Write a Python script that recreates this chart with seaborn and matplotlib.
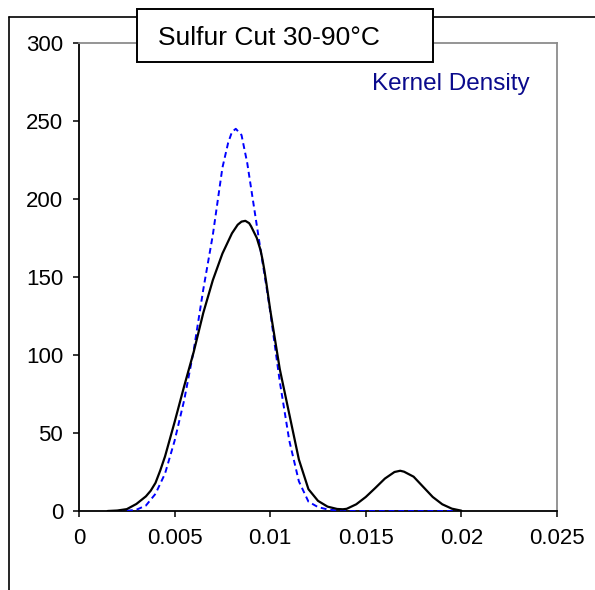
import matplotlib
matplotlib.use("Agg")
import matplotlib.pyplot as plt
import seaborn as sns
import pandas as pd
from matplotlib.patches import Rectangle
from matplotlib.lines import Line2D

# ---- data ----
black_x = [0.0015, 0.002, 0.0025, 0.003, 0.0035, 0.00375, 0.004, 0.00425, 0.0045,
           0.00475, 0.005, 0.0055, 0.006, 0.0065, 0.007, 0.0075, 0.008, 0.0083,
           0.0085, 0.0087, 0.0089, 0.009, 0.0093, 0.0095, 0.0096, 0.0097, 0.0098,
           0.010, 0.0105, 0.011, 0.0115, 0.012, 0.0125, 0.013, 0.0135, 0.0138,
           0.014, 0.0145, 0.015, 0.0155, 0.016, 0.0165, 0.0168, 0.017, 0.0175,
           0.018, 0.0185, 0.019, 0.0195, 0.020]
black_y = [0, 0.3, 1.2, 4.5, 9.4, 13, 18, 26, 35,
           46, 57, 80, 102, 127, 148, 165, 178, 183.5,
           185.5, 186, 184.5, 182.5, 175, 167, 161, 154, 146,
           129, 91, 62, 33, 14, 6.5, 2.8, 1.3, 1.1,
           1.4, 4.3, 9, 14.8, 20.8, 25, 25.8, 25.2, 22,
           15.5, 9, 4.3, 1.5, 0.2]

blue_x = [0.002, 0.0025, 0.003, 0.0035, 0.004, 0.0045, 0.005, 0.0055, 0.006,
          0.0065, 0.007, 0.0075, 0.0078, 0.008, 0.0082, 0.0085, 0.0088, 0.009,
          0.0093, 0.0095, 0.0098, 0.010, 0.0105, 0.011, 0.0115, 0.012, 0.0125,
          0.013, 0.0135, 0.014, 0.015, 0.016, 0.017, 0.018, 0.019, 0.020]
blue_y = [0, 0.1, 0.8, 3.5, 11, 24, 45, 71, 103,
          142, 177, 220, 236, 243, 245, 241, 223, 207,
          183, 167, 144, 128, 83, 45, 19, 6, 2.5,
          1, 0.3, 0, 0, 0, 0, 0, 0, 0]

x_ticks = [0, 0.005, 0.01, 0.015, 0.02, 0.025]
x_labels = ["0", "0.005", "0.01", "0.015", "0.02", "0.025"]
y_ticks = [0, 50, 100, 150, 200, 250, 300]
title_text = "Sulfur Cut 30-90°C"
note_text = "Kernel Density"

# ---- plotting ----
sns.set_style("white")
plt.rcParams["font.family"] = ["Liberation Sans", "DejaVu Sans"]

W, H = 595, 590
fig = plt.figure(figsize=(W / 100, H / 100), dpi=100)
ax = fig.add_axes([79 / W, 1 - 511 / H, (557 - 79) / W, (511 - 43) / H])

black_df = pd.DataFrame({"x": black_x, "y": black_y})
blue_df = pd.DataFrame({"x": blue_x, "y": blue_y})

sns.lineplot(data=blue_df, x="x", y="y", ax=ax, color="#0000FF", lw=1.4,
             linestyle=(0, (3, 2)), zorder=3)
sns.lineplot(data=black_df, x="x", y="y", ax=ax, color="black", lw=1.6, zorder=4)

ax.set_xlim(0, 0.025)
ax.set_ylim(0, 300)
ax.set_xticks(x_ticks)
ax.set_xticklabels(x_labels)
ax.set_yticks(y_ticks)
ax.set_xlabel("")
ax.set_ylabel("")

for s in ["left", "bottom"]:
    ax.spines[s].set_color("black")
    ax.spines[s].set_linewidth(1.3)
for s in ["top", "right"]:
    ax.spines[s].set_color("#8c8c8c")
    ax.spines[s].set_linewidth(1.3)
    ax.spines[s].set_visible(True)

ax.tick_params(axis="both", which="major", direction="out", length=4.5,
               width=1.1, color="black", labelsize=16, labelcolor="black",
               left=True, bottom=True)
ax.tick_params(axis="y", pad=7)
ax.tick_params(axis="x", pad=8)

# outer chart frame (partially visible)
fig.add_artist(Line2D([8.5 / W, 8.5 / W], [1 - 17 / H, 0], transform=fig.transFigure,
                      color="black", lw=1.2))
fig.add_artist(Line2D([8.5 / W, 1.0], [1 - 17 / H, 1 - 17 / H], transform=fig.transFigure,
                      color="black", lw=1.2))

# title box
fig.add_artist(Rectangle((137 / W, 1 - 62 / H), (433 - 137) / W, (62 - 9) / H,
                         transform=fig.transFigure, facecolor="white",
                         edgecolor="black", lw=1.4, zorder=10))
fig.text(158 / W, 1 - 45 / H, title_text, fontsize=19, ha="left", va="baseline",
         color="black", zorder=11)

# kernel density note
fig.text(372 / W, 1 - 90 / H, note_text, fontsize=17.5, ha="left", va="baseline",
         color="#0A0A8C")

fig.savefig("out.png", dpi=100)
